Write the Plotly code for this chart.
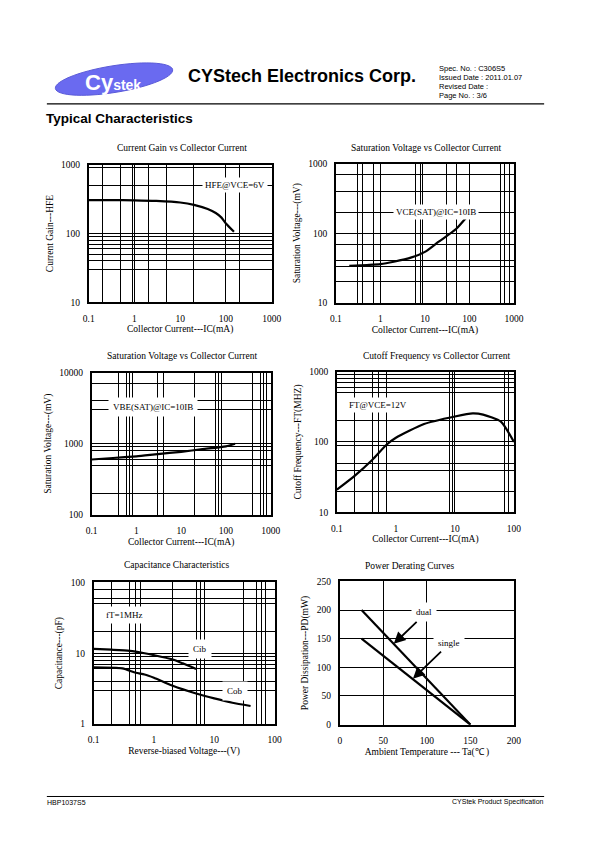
import math
import plotly.graph_objects as go

W, H = 595, 842
SERIF = "Liberation Serif"
SANS = "Liberation Sans"

# ---------------- data ----------------
hfe_ic = [0.1, 0.3, 1, 3, 10, 20, 40, 60, 80, 100, 150]
hfe_val = [305, 305, 303, 297, 282, 260, 226, 198, 170, 140, 106]

vce_ic = [0.2, 0.5, 1, 2, 5, 10, 20, 50, 100, 120]
vce_val = [34, 35, 36, 39, 45, 54, 75, 115, 190, 215]

vbe_ic = [0.1, 0.3, 1, 3, 10, 30, 100, 160]
vbe_val = [600, 630, 665, 715, 770, 840, 920, 1000]

ft_ic = [0.1, 0.2, 0.4, 0.7, 1, 3, 10, 20, 30, 60, 100]
ft_val = [21, 33, 56, 92, 115, 180, 230, 255, 245, 195, 100]

cib_v = [0.1, 0.2, 0.4, 0.7, 1, 2, 3, 5]
cib_val = [11.5, 11.2, 10.8, 10.0, 9.4, 8.2, 7.2, 6.0]
cob_v = [0.1, 0.3, 0.5, 0.7, 1, 2, 5, 10, 20, 40]
cob_val = [6.3, 6.1, 5.3, 5.0, 4.5, 3.5, 2.7, 2.3, 2.0, 1.8]

ta = [25, 150]
pd_dual = [200, 0]
pd_single = [150, 0]

# tick labels
ticks_01_1000 = [0.1, 1, 10, 100, 1000]
ticks_01_100 = [0.1, 1, 10, 100]
ticks_10_1000 = [10, 100, 1000]
ticks_100_10000 = [100, 1000, 10000]
ticks_1_100 = [1, 10, 100]
ticks_ta = [0, 50, 100, 150, 200]
ticks_pd = [0, 50, 100, 150, 200, 250]

# gridline positions
g1x = [0.2, 0.5, 0.9, 1, 2, 5, 20, 100, 200]
g1y = [30, 40, 50, 60, 70, 80, 90, 100, 500, 900]
g2x = [0.3, 0.4, 0.7, 1, 6, 8, 9, 30, 50, 100, 500, 600, 800]
g2y = [20, 33, 40, 70, 100, 200, 400, 700]
g3x = [0.4, 0.6, 0.7, 0.8, 3, 4, 20, 60, 70, 80, 400, 600, 700, 800]
g3y = [200, 500, 600, 800, 900, 1000, 3000, 4000, 7000]
g4x = [0.2, 0.4, 0.5, 0.7, 8, 9, 10, 70, 80]
g4y = [20, 40, 50, 90, 100, 200, 500, 600, 700, 800, 900]
g5x = [0.2, 0.4, 0.5, 0.6, 2, 5, 6, 7, 30, 50, 60, 70]
g5y = [3, 4, 6, 7, 8, 9, 10, 20, 50, 60, 80]
g6x = [50, 100]
g6y = [50, 100, 150, 200]


def fmt(v):
    return ("%g" % v)


def px(x):
    return x / W


def py(y):
    return 1 - y / H


def axis(dom, log, rng, ticks, grid, title, standoff_lbl, standoff_title):
    return dict(
        domain=dom,
        type="log" if log else "linear",
        range=[math.log10(rng[0]), math.log10(rng[1])] if log else rng,
        tickmode="array",
        tickvals=ticks,
        ticktext=[fmt(t) for t in ticks],
        showgrid=False,
        zeroline=False,
        ticks="",
        ticklabelstandoff=standoff_lbl,
        tickfont=dict(family=SERIF, size=9.5, color="black"),
        showline=True,
        linecolor="black",
        linewidth=1.6,
        mirror=True,
        minor=dict(tickmode="array", tickvals=grid, showgrid=True,
                   gridcolor="black", gridwidth=1.3, ticks=""),
        title=dict(text=title, standoff=standoff_title,
                   font=dict(family=SERIF, size=9.5, color="black")),
        fixedrange=True,
    )


fig = go.Figure()

charts = [
    dict(xd=(85, 273), yd=(161.5, 301), xlog=True, ylog=True,
         xr=(0.1, 1000), yr=(10, 1000), xt=ticks_01_1000, yt=ticks_10_1000,
         gx=g1x, gy=g1y, xtitle="Collector Current---IC(mA)", ytitle="Current Gain---HFE"),
    dict(xd=(339, 522), yd=(160.5, 301.5), xlog=True, ylog=True,
         xr=(0.1, 1000), yr=(10, 1000), xt=ticks_01_1000, yt=ticks_10_1000,
         gx=g2x, gy=g2y, xtitle="Collector Current---IC(mA)", ytitle="Saturation Voltage---(mV)"),
    dict(xd=(88, 272), yd=(372, 516), xlog=True, ylog=True,
         xr=(0.1, 1000), yr=(100, 10000), xt=ticks_01_1000, yt=ticks_100_10000,
         gx=g3x, gy=g3y, xtitle="Collector Current---IC(mA)", ytitle="Saturation Voltage---(mV)"),
    dict(xd=(340, 522), yd=(371, 513.5), xlog=True, ylog=True,
         xr=(0.1, 100), yr=(10, 1000), xt=ticks_01_100, yt=ticks_10_1000,
         gx=g4x, gy=g4y, xtitle="Collector Current---IC(mA)", ytitle="Cutoff Frequency---FT(MHZ)"),
    dict(xd=(90, 276), yd=(584.3, 727.7), xlog=True, ylog=True,
         xr=(0.1, 100), yr=(1, 100), xt=ticks_01_100, yt=ticks_1_100,
         gx=g5x, gy=g5y, xtitle="Reverse-biased Voltage---(V)", ytitle="Capacitance---(pF)"),
    dict(xd=(343, 522), yd=(583.3, 728.3), xlog=False, ylog=False,
         xr=[0, 200], yr=[0, 250], xt=ticks_ta, yt=ticks_pd,
         gx=g6x, gy=g6y, xtitle="Ambient Temperature --- Ta(\u2103 )", ytitle="Power Dissipation---PD(mW)"),
]

layout_axes = {}
for i, c in enumerate(charts, start=1):
    xn = "xaxis" if i == 1 else "xaxis%d" % i
    yn = "yaxis" if i == 1 else "yaxis%d" % i
    xa = axis([px(c["xd"][0]), px(c["xd"][1])], c["xlog"], c["xr"], c["xt"], c["gx"],
              c["xtitle"], 6, 3)
    ya = axis([py(c["yd"][1]), py(c["yd"][0])], c["ylog"], c["yr"], c["yt"], c["gy"],
              c["ytitle"], 5, 6)
    xa["anchor"] = "y" if i == 1 else "y%d" % i
    ya["anchor"] = "x" if i == 1 else "x%d" % i
    layout_axes[xn] = xa
    layout_axes[yn] = ya


def add(xs, ys, k, spline=True):
    fig.add_trace(go.Scatter(
        x=xs, y=ys, mode="lines",
        line=dict(color="black", width=2.2, shape="spline" if spline else "linear", smoothing=0.6),
        xaxis="x" if k == 1 else "x%d" % k,
        yaxis="y" if k == 1 else "y%d" % k,
        showlegend=False, hoverinfo="skip"))


add(hfe_ic, hfe_val, 1)
add(vce_ic, vce_val, 2)
add(vbe_ic, vbe_val, 3)
add(ft_ic, ft_val, 4)
add(cib_v, cib_val, 5)
add(cob_v, cob_val, 5)
add(ta, pd_dual, 6, spline=False)
add(ta, pd_single, 6, spline=False)

annotations = []


def lbl(text, x, y, k, log=True, pad=2):
    annotations.append(dict(
        text=text, x=math.log10(x) if log else x, y=math.log10(y) if log else y,
        xref="x" if k == 1 else "x%d" % k, yref="y" if k == 1 else "y%d" % k,
        showarrow=False, bgcolor="white", borderpad=pad,
        font=dict(family=SERIF, size=9, color="black")))


lbl("HFE@VCE=6V", 160, 500, 1)
lbl("VCE(SAT)@IC=10IB", 18, 200, 2)
lbl("VBE(SAT)@IC=10IB", 2.3, 3300, 3, pad=4)
lbl("FT@VCE=12V", 0.5, 330, 4)
lbl("fT=1MHz", 0.33, 35, 5, pad=3)
lbl("Cib", 5.9, 11.3, 5, pad=4)
lbl("Cob", 22, 2.9, 5, pad=4)
lbl("dual", 97, 196, 6, log=False, pad=4)
lbl("single", 125, 143, 6, log=False, pad=4)

for tip, tail in [((62, 141), (90, 182)), ((84, 80), (118, 130))]:
    annotations.append(dict(
        x=tip[0], y=tip[1], ax=tail[0], ay=tail[1], xref="x6", yref="y6",
        axref="x6", ayref="y6", text="", showarrow=True, arrowhead=2,
        arrowsize=1.3, arrowwidth=1.8, arrowcolor="black"))

titles = [
    ("Current Gain vs Collector Current", 181, 145),
    ("Saturation Voltage vs Collector Current", 432, 145),
    ("Saturation Voltage vs Collector Current", 181, 355),
    ("Cutoff Frequency vs Collector Current", 442, 355),
    ("Capacitance Characteristics", 176, 567),
    ("Power Derating Curves", 415, 568),
]
for t, x, y in titles:
    annotations.append(dict(text=t, x=px(x), y=py(y), xref="paper", yref="paper",
                            showarrow=False, xanchor="center", yanchor="middle",
                            font=dict(family=SERIF, size=9.5, color="black")))

# header
annotations.append(dict(text="<b>CYStech Electronics Corp.</b>", x=px(185), y=py(72),
                        xref="paper", yref="paper", showarrow=False, xanchor="left",
                        yanchor="middle", font=dict(family=SANS, size=18, color="black")))
for i, t in enumerate(["Spec. No. : C306S5", "Issued Date : 2011.01.07",
                       "Revised Date :", "Page No. : 3/6"]):
    annotations.append(dict(text=t, x=px(443), y=py(64 + 9.2 * i), xref="paper", yref="paper",
                            showarrow=False, xanchor="left", yanchor="middle",
                            font=dict(family=SANS, size=7.5, color="black")))
annotations.append(dict(text="<b>Typical Characteristics</b>", x=px(39), y=py(115),
                        xref="paper", yref="paper", showarrow=False, xanchor="left",
                        yanchor="middle", font=dict(family=SANS, size=13.5, color="black")))
annotations.append(dict(text="<b>Cy</b><b><span style='font-size:14px'>stek</span></b>",
                        x=px(110), y=py(78), xref="paper", yref="paper", showarrow=False,
                        xanchor="center", yanchor="middle",
                        font=dict(family=SANS, size=22, color="white")))
annotations.append(dict(text="HBP1037S5", x=px(40), y=py(807), xref="paper", yref="paper",
                        showarrow=False, xanchor="left", yanchor="middle",
                        font=dict(family=SANS, size=7, color="black")))
annotations.append(dict(text="CYStek Product Specification", x=px(555), y=py(807),
                        xref="paper", yref="paper", showarrow=False, xanchor="right",
                        yanchor="middle", font=dict(family=SANS, size=7, color="black")))

cx, cy, a, b, ang = 111, 75, 61, 13.5, math.radians(-9)
pts = []
for k in range(60):
    t = 2 * math.pi * k / 60
    ex, ey = a * math.cos(t), b * math.sin(t)
    X = cx + ex * math.cos(ang) - ey * math.sin(ang)
    Y = cy + ex * math.sin(ang) + ey * math.cos(ang)
    pts.append((px(X), py(Y)))
path = "M " + " L ".join("%.5f,%.5f" % p for p in pts) + " Z"

shapes = [
    dict(type="path", path=path, xref="paper", yref="paper",
         fillcolor="#6a6af0", line=dict(color="#5a5ad8", width=1), layer="below"),
    dict(type="line", x0=px(42), x1=px(553), y0=py(100), y1=py(100), xref="paper",
         yref="paper", line=dict(color="black", width=1.3)),
    dict(type="line", x0=px(42), x1=px(553), y0=py(801), y1=py(801), xref="paper",
         yref="paper", line=dict(color="black", width=1)),
]

fig.update_layout(
    width=W, height=H, autosize=False,
    margin=dict(l=0, r=0, t=0, b=0),
    paper_bgcolor="white", plot_bgcolor="white",
    showlegend=False,
    annotations=annotations,
    shapes=shapes,
    **layout_axes,
)

fig.write_html(
    "out.html",
    config={"displayModeBar": False},
    post_script=("document.documentElement.style.margin='0';"
                 "document.documentElement.style.overflow='hidden';"
                 "document.body.style.margin='0';document.body.style.padding='0';"
                 "document.body.style.overflow='hidden';"),
)
